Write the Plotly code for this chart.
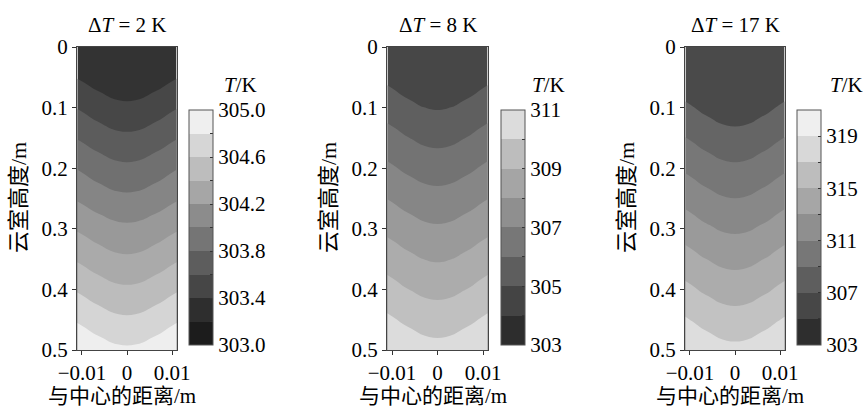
import plotly.graph_objects as go

# ---------------- data ----------------
heights = [0.0, 0.05, 0.10, 0.15, 0.20, 0.25, 0.30, 0.35, 0.40, 0.45, 0.50]
radial_x = [-0.011, -0.00917, -0.00733, -0.0055, -0.00367, -0.00183, 0.0,
            0.00183, 0.00367, 0.0055, 0.00733, 0.00917, 0.011]
# relative depth of the central dip of the isotherms across the chamber
dip_weight = [0.0, 0.22, 0.47, 0.65, 0.85, 0.96, 1.0, 0.96, 0.85, 0.65, 0.47, 0.22, 0.0]

# panel dT = 2 K
T2_wall = [302.99, 303.19, 303.39, 303.59, 303.79, 303.98, 304.18, 304.38, 304.58, 304.78, 304.97]
T2_axis = [302.85, 303.05, 303.24, 303.44, 303.64, 303.84, 304.04, 304.23, 304.43, 304.63, 304.83]
# panel dT = 8 K
T8_wall = [303.00, 303.79, 304.59, 305.39, 306.18, 306.98, 307.78, 308.58, 309.38, 310.17, 310.97]
T8_axis = [302.35, 303.14, 303.94, 304.73, 305.53, 306.33, 307.13, 307.92, 308.72, 309.52, 310.32]
# panel dT = 17 K
T17_wall = [301.96, 303.65, 305.34, 307.03, 308.72, 310.40, 312.09, 313.78, 315.47, 317.16, 318.85]
T17_axis = [300.58, 302.26, 303.95, 305.64, 307.33, 309.02, 310.71, 312.40, 314.08, 315.77, 317.47]

panel_titles = ["Δ<i>T</i> = 2 K", "Δ<i>T</i> = 8 K", "Δ<i>T</i> = 17 K"]

# contour levels (start, end, step) and band colours
levels = [(303.2, 304.8, 0.2), (304.0, 310.0, 1.0), (305.0, 317.0, 2.0)]
band_colors = [
    ['#333333', '#474747', '#5c5c5c', '#707070', '#858585', '#999999', '#aaaaaa', '#bcbcbc', '#d5d5d5', '#eeeeee'],
    ['#474747', '#5f5f5f', '#737373', '#868686', '#9a9a9a', '#acacac', '#c0c0c0', '#dcdcdc'],
    ['#4a4a4a', '#656565', '#777777', '#888888', '#9a9a9a', '#acacac', '#c2c2c2', '#dddddd'],
]

# colour bars
cbar_ranges = [(303.0, 305.0, 0.2), (303.0, 311.0, 1.0), (303.0, 321.0, 2.0)]
cbar_labels = [
    {303.0: "303.0", 303.4: "303.4", 303.8: "303.8", 304.2: "304.2", 304.6: "304.6", 305.0: "305.0"},
    {303.0: "303", 305.0: "305", 307.0: "307", 309.0: "309", 311.0: "311"},
    {303.0: "303", 307.0: "307", 311.0: "311", 315.0: "315", 319.0: "319"},
]
cbar_colors = [
    ['#1c1c1c', '#2e2e2e', '#464646', '#5d5d5d', '#757575', '#8c8c8c', '#a6a6a6', '#bdbdbd', '#d6d6d6', '#efefef'],
    ['#2d2d2d', '#444444', '#5e5e5e', '#777777', '#8f8f8f', '#a5a5a5', '#bdbdbd', '#dcdcdc'],
    ['#2e2e2e', '#474747', '#5e5e5e', '#777777', '#8f8f8f', '#a6a6a6', '#bdbdbd', '#d8d8d8', '#efefef'],
]

x_ticks = [-0.01, 0.0, 0.01]
x_ticktext = ["\u22120.01", "0", "0.01"]
y_ticks = [0.0, 0.1, 0.2, 0.3, 0.4, 0.5]
y_ticktext = ["0", "0.1", "0.2", "0.3", "0.4", "0.5"]
x_label = "与中心的距离/m"
y_label = "云室高度/m"

# ---------------- layout geometry (pixels) ----------------
W, H = 867, 409
plot_lr = [(77, 177), (387, 488), (685, 785)]
plot_tb = (47, 350)
cbar_left = [189, 501, 797]
cbar_tb = (110, 345)
cbar_title_x = [222, 530, 828]

SERIF = "Liberation Serif"
MIX = "Liberation Serif, Noto Sans CJK SC"
NUM_SIZE = 21


def px(x):
    return x / W


def py(y):
    return 1 - y / H


def stepped(colors):
    n = len(colors)
    scale = []
    for k, c in enumerate(colors):
        lo = max(0.0, (k - 0.5) / (n - 1))
        hi = min(1.0, (k + 0.5) / (n - 1))
        scale.append([lo, c])
        scale.append([hi, c])
    return scale


def stepped_bar(colors):
    n = len(colors)
    scale = []
    for k, c in enumerate(colors):
        scale.append([k / n, c])
        scale.append([(k + 1) / n, c])
    return scale


fig = go.Figure()
wall_sets = [T2_wall, T8_wall, T17_wall]
axis_sets = [T2_axis, T8_axis, T17_axis]

annotations = []
for i in range(3):
    sfx = "" if i == 0 else str(i + 1)
    wall, axis = wall_sets[i], axis_sets[i]
    z = [[wall[r] + (axis[r] - wall[r]) * w for w in dip_weight] for r in range(len(heights))]
    s, e, d = levels[i]
    fig.add_trace(go.Contour(
        x=radial_x, y=heights, z=z,
        xaxis="x" + sfx, yaxis="y" + sfx,
        contours=dict(start=s, end=e, size=d, coloring="fill"),
        colorscale=stepped(band_colors[i]),
        line=dict(width=0, smoothing=1.0),
        showscale=False, hoverinfo="skip",
    ))
    c0, c1, cd = cbar_ranges[i]
    nb = int(round((c1 - c0) / cd))
    tv = [round(c0 + k * cd, 4) for k in range(nb + 1)]
    tt = [cbar_labels[i].get(v, "") for v in tv]
    fig.add_trace(go.Scatter(
        x=[1.0, 1.0], y=[2.0, 2.0], mode="markers",
        xaxis="x" + sfx, yaxis="y" + sfx,
        marker=dict(size=1, color=[c0, c1], cmin=c0, cmax=c1,
                    colorscale=stepped_bar(cbar_colors[i]), showscale=True,
                    colorbar=dict(
                        x=px(cbar_left[i]), xanchor="left", xpad=0,
                        y=py(cbar_tb[0]), yanchor="top", ypad=0,
                        len=cbar_tb[1] - cbar_tb[0], lenmode="pixels",
                        thickness=24, thicknessmode="pixels",
                        outlinewidth=1, outlinecolor="#555555",
                        ticks="inside", ticklen=3, tickcolor="#333333",
                        tickmode="array", tickvals=tv, ticktext=tt,
                        tickfont=dict(family=SERIF, size=NUM_SIZE, color="black"),
                    )),
        showlegend=False, hoverinfo="skip",
    ))
    l, r = plot_lr[i]
    axis_common = dict(showline=True, linecolor="#444444", linewidth=1, mirror=True,
                       ticks="outside", ticklen=4, tickcolor="#333333",
                       showgrid=False, zeroline=False, automargin=False,
                       tickfont=dict(family=SERIF, size=NUM_SIZE, color="black"))
    fig.update_layout(**{
        "xaxis" + sfx: dict(domain=[px(l), px(r)], anchor="y" + sfx,
                            range=[-0.0111, 0.0111], tickmode="array",
                            tickvals=x_ticks, ticktext=x_ticktext, **axis_common),
        "yaxis" + sfx: dict(domain=[py(plot_tb[1]), py(plot_tb[0])], anchor="x" + sfx,
                            range=[0.5, 0.0], tickmode="array",
                            tickvals=y_ticks, ticktext=y_ticktext, **axis_common),
    })
    cx = (l + r) / 2
    annotations.append(dict(text=panel_titles[i], x=px(cx), y=py(25), xref="paper", yref="paper",
                            showarrow=False, xanchor="center", yanchor="middle",
                            font=dict(family=SERIF, size=NUM_SIZE, color="black")))
    annotations.append(dict(text="<i>T</i>/K", x=px(cbar_title_x[i]), y=py(85), xref="paper",
                            yref="paper", showarrow=False, xanchor="left", yanchor="middle",
                            font=dict(family=SERIF, size=NUM_SIZE, color="black")))
    annotations.append(dict(text=x_label, x=px(cx - 5), y=py(396), xref="paper", yref="paper",
                            showarrow=False, xanchor="center", yanchor="middle",
                            font=dict(family=MIX, size=21, color="black")))
    annotations.append(dict(text=y_label, x=px(l - 59), y=py(198), xref="paper", yref="paper",
                            showarrow=False, xanchor="center", yanchor="middle", textangle=-90,
                            font=dict(family=MIX, size=22, color="black")))

fig.update_layout(
    width=W, height=H, margin=dict(l=0, r=0, t=0, b=0, autoexpand=False),
    paper_bgcolor="white", plot_bgcolor="white",
    showlegend=False, annotations=annotations,
)

fig.write_html("out.html", config={"displayModeBar": False},
               post_script="document.body.style.margin='0px';")
